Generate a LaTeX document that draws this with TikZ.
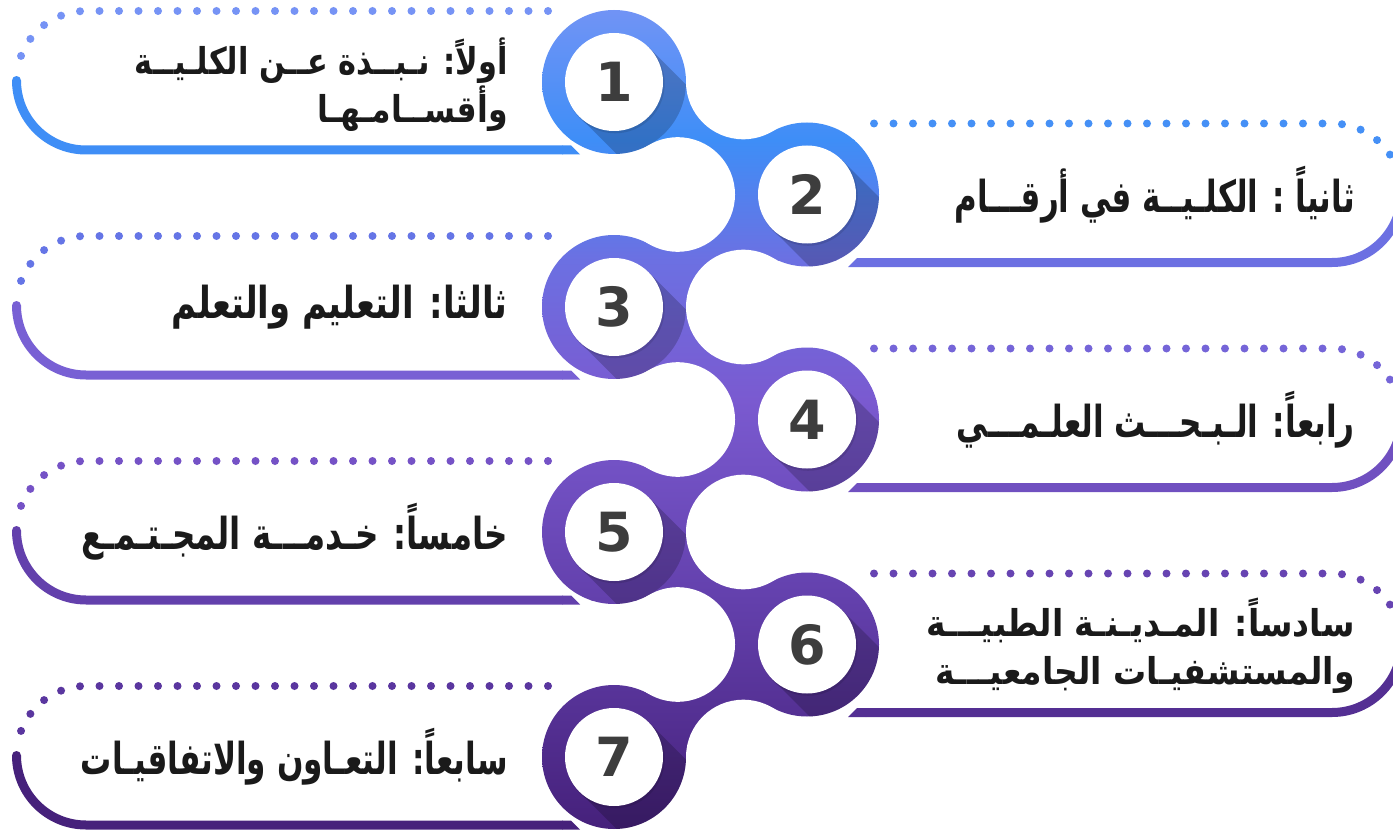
\documentclass[tikz,border=0pt]{standalone}
\usepackage{fontspec}
\usepackage{graphicx}
\newfontfamily\arabicfont[Script=Arabic]{DejaVu Sans}
\newfontfamily\digitfont{DejaVu Sans}
\TeXXeTstate=1
\definecolor{c0}{HTML}{7594F5}
\definecolor{c1}{HTML}{3E8EF7}
\definecolor{c2}{HTML}{6C70E2}
\definecolor{c3}{HTML}{7A5AD0}
\definecolor{c4}{HTML}{6340AC}
\definecolor{c5}{HTML}{45207A}
\definecolor{numgray}{HTML}{3D3D3D}
\definecolor{txt}{HTML}{1A1A1A}
\definecolor{dA}{HTML}{7693F5}\definecolor{lA}{HTML}{3F8EF6}
\definecolor{dB}{HTML}{4590F6}\definecolor{lB}{HTML}{6C70E2}
\definecolor{dC}{HTML}{6575E6}\definecolor{lC}{HTML}{7860D4}
\definecolor{dD}{HTML}{7565D8}\definecolor{lD}{HTML}{7050C0}
\definecolor{dE}{HTML}{7552C6}\definecolor{lE}{HTML}{6340AC}
\definecolor{dF}{HTML}{6744B2}\definecolor{lF}{HTML}{542F93}
\definecolor{dG}{HTML}{5A369F}\definecolor{lG}{HTML}{46217B}
\tikzset{
 dotline/.style={line width=8pt, dash pattern=on 0pt off 19.5pt, line cap=round},
 solidline/.style={line width=9pt, line cap=round},
 digit/.style={font=\digitfont\bfseries\fontsize{54}{54}\selectfont, text=numgray, inner sep=0pt},
 lbl/.style={font=\arabicfont\bfseries\fontsize{44}{48}\selectfont, text=txt, anchor=east, align=right, inner sep=0pt},
}
\newcommand\gradrects{%
 \shade[top color=c0,bottom color=c1] (0,-1) rectangle (1393,140.5);
 \shade[top color=c1,bottom color=c2] (0,140) rectangle (1393,260.5);
 \shade[top color=c2,bottom color=c3] (0,260) rectangle (1393,400.5);
 \shade[top color=c3,bottom color=c4] (0,400) rectangle (1393,600.5);
 \shade[top color=c4,bottom color=c5] (0,600) rectangle (1393,833);
}
\newcommand\leftband[3]{%
 \draw[dotline,#2] (548,#1-71) -- (86,#1-71) arc[start angle=270,end angle=195,radius=69.5];
 \draw[solidline,#3] (16.5,#1-1.5) arc[start angle=180,end angle=90,radius=69.5] -- (562,#1+68);
 \fill[#3] (562,#1+63.5) -- (571,#1+63.5) -- (580,#1+72.5) -- (562,#1+72.5) -- cycle;
}
\newcommand\rightband[3]{%
 \draw[dotline,#2] (874,#1-71) -- (1332,#1-71) arc[start angle=270,end angle=350,radius=69.5];
 \draw[solidline,#3] (1401.5,#1-1.5) arc[start angle=0,end angle=90,radius=69.5] -- (866,#1+68);
 \fill[#3] (866,#1+63.5) -- (857,#1+63.5) -- (848,#1+72.5) -- (866,#1+72.5) -- cycle;
}
\begin{document}
\begin{tikzpicture}[x=1pt,y=-1pt]
\useasboundingbox (0,0) rectangle (1393,832);
\fill[white] (0,0) rectangle (1393,832);
% bands
\leftband{82}{dA}{lA}
\rightband{194.5}{dB}{lB}
\leftband{307}{dC}{lC}
\rightband{419.5}{dD}{lD}
\leftband{532}{dE}{lE}
\rightband{644.5}{dF}{lF}
\leftband{757}{dG}{lG}
% chain: outer circles
\foreach \cx/\cy in {614/82, 807/194.5, 614/307, 807/419.5, 614/532, 807/644.5, 614/757}{
 \begin{scope}\clip (\cx,\cy) circle[radius=72]; \gradrects \end{scope}
}
% bridges
\foreach \ya/\yb in {82/194.5, 307/419.5, 532/644.5}{
 \begin{scope}\clip (614,\ya) -- (743.3,\ya) -- (807,\yb) -- (677.7,\yb) -- cycle; \gradrects \end{scope}
}
\foreach \ya/\yb in {194.5/307, 419.5/532, 644.5/757}{
 \begin{scope}\clip (807,\ya) -- (743.3,\yb) -- (614,\yb) -- (677.7,\ya) -- cycle; \gradrects \end{scope}
}
% concave cut-outs
\foreach \cy in {82,307,532,757}{\fill[white] (743.3,\cy) circle[radius=57.3];}
\foreach \cy in {194.5,419.5,644.5}{\fill[white] (677.7,\cy) circle[radius=57.3];}
% long shadows and inner discs
\foreach \cx/\cy in {614/82, 807/194.5, 614/307, 807/419.5, 614/532, 807/644.5, 614/757}{
 \begin{scope}\clip (\cx,\cy) circle[radius=72];
 \fill[black,opacity=0.2] (\cx+34.65,\cy-34.65) -- (\cx+114.65,\cy+45.35) -- (\cx+45.35,\cy+114.65) -- (\cx-34.65,\cy+34.65) -- cycle;
 \end{scope}
 \fill[black,opacity=0.10] (\cx+1.2,\cy+1.8) circle[radius=49.5];
 \fill[white] (\cx,\cy) circle[radius=49];
}
% digits
\node[digit] (n1) at (614,82) {1};
\node[digit] (n2) at (807,194.5) {2};
\node[digit] (n3) at (614,307) {3};
\node[digit] (n4) at (807,419.5) {4};
\node[digit] (n5) at (614,532) {5};
\node[digit] (n6) at (807,644.5) {6};
\node[digit] (n7) at (614,757) {7};
% labels
\node[lbl] (t1) at (508,85) {\resizebox{373pt}{0.84\height}{\beginR أولاً: نـبــذة عــن الكلـيــة\endR}\\[0pt]\resizebox{190pt}{0.84\height}{\beginR وأقســامـهـا\endR}};
\node[lbl] (t2) at (1355,194.5) {\resizebox{400pt}{\height}{\beginR ثانياً :  الكلـيــة في أرقـــام\endR}};
\node[lbl] (t3) at (508,307) {\resizebox{336pt}{\height}{\beginR ثالثا: التعليم والتعلم\endR}};
\node[lbl] (t4) at (1355,419.5) {\resizebox{398pt}{\height}{\beginR رابعاً:  الـبـحـــث العلـمـــي\endR}};
\node[lbl] (t5) at (508,532) {\resizebox{426pt}{\height}{\beginR خامساً: خـدمـــة المجـتـمـع\endR}};
\node[lbl] (t6) at (1355,646) {\resizebox{428pt}{0.84\height}{\beginR سادساً: المـديـنـة الطبيـــة\endR}\\[0pt]\resizebox{419pt}{0.84\height}{\beginR والمستشفيـات الجامعيـــة\endR}};
\node[lbl] (t7) at (508,757) {\resizebox{427pt}{\height}{\beginR سابعاً: التعـاون والاتفاقيـات\endR}};
\end{tikzpicture}
\end{document}
